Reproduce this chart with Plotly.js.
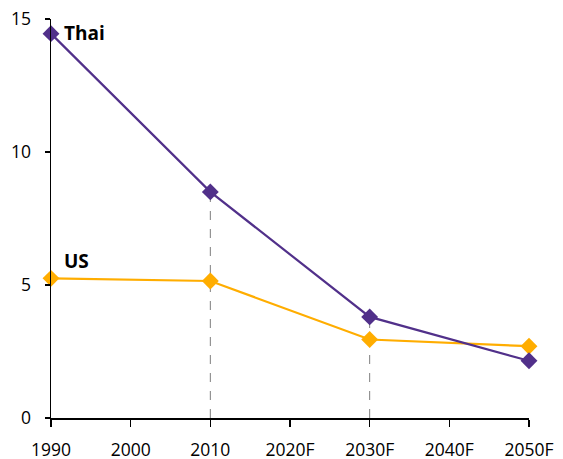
<!DOCTYPE html>
<html><head><meta charset="utf-8">
<script src="https://cdn.plot.ly/plotly-3.0.1.min.js"></script>
<style>html,body{margin:0;padding:0;background:#fff}#c{width:563px;height:459px}</style>
</head><body><div id="c"></div>
<script>
const categories = ["1990","2000","2010","2020F","2030F","2040F","2050F"];
const years = ["1990","2010","2030F","2050F"];
const thai = [14.45, 8.5, 3.8, 2.15];
const us = [5.25, 5.15, 2.95, 2.7];
const dropYears = ["2010","2030F"];

const font = "Open Sans, Noto Sans, sans-serif";
const purple = "#51308a";
const orange = "#ffad00";

const traces = [
  {x: years, y: us, mode: "lines+markers", name: "US", cliponaxis: false,
   line: {color: orange, width: 2.2}, marker: {symbol: "diamond", size: 13, color: orange}},
  {x: years, y: thai, mode: "lines+markers", name: "Thai", cliponaxis: false,
   line: {color: purple, width: 2.2}, marker: {symbol: "diamond", size: 13, color: purple}}
];

const shapes = dropYears.map(c => ({
  type: "line", xref: "x", yref: "y", layer: "below",
  x0: categories.indexOf(c), x1: categories.indexOf(c),
  y0: 0, y1: thai[years.indexOf(c)],
  line: {color: "#7f7f7f", width: 1, dash: "dash"}
}));

const layout = {
  width: 563, height: 459,
  margin: {l: 51, r: 34, t: 19, b: 41},
  showlegend: false,
  paper_bgcolor: "#fff", plot_bgcolor: "#fff",
  font: {family: font, size: 17.5, color: "#000"},
  xaxis: {type: "category", categoryorder: "array", categoryarray: categories,
    range: [0, 6], showgrid: false, zeroline: false, showline: true,
    linecolor: "#000", linewidth: 1.5, ticks: "outside", ticklen: 7, tickwidth: 1.5,
    tickcolor: "#000", tickfont: {family: font, size: 17.5}, ticklabelstandoff: 8, fixedrange: true},
  yaxis: {range: [0, 15], tickvals: [0, 5, 10, 15], showgrid: false, zeroline: false,
    showline: true, linecolor: "#000", linewidth: 1.5, ticks: "outside", ticklen: 5,
    tickwidth: 1.5, tickcolor: "#000", tickfont: {family: font, size: 17.5}, ticklabelstandoff: 10},
  shapes: shapes,
  annotations: [
    {x: 0, y: thai[0], xref: "x", yref: "y", text: "<b>Thai</b>", showarrow: false,
     xanchor: "left", yanchor: "middle", xshift: 11, yshift: 1, font: {family: font, size: 19}},
    {x: 0, y: us[0], xref: "x", yref: "y", text: "<b>US</b>", showarrow: false,
     xanchor: "left", yanchor: "middle", xshift: 11, yshift: 17, font: {family: font, size: 19}}
  ]
};
Plotly.newPlot("c", traces, layout, {displayModeBar: false, staticPlot: true});
</script></body></html>
